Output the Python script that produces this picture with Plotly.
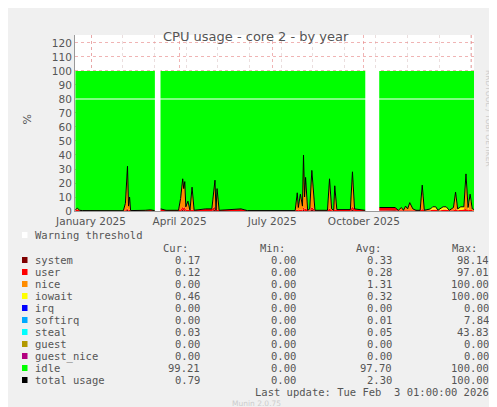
import plotly.graph_objects as go

# day offsets from 2025-01-01 (as positioned on the chart's time axis)
days = [-15,-13,-11,-8,31,33,35,36,37,38,52,57,61,
        67,72,84,86,88,89,90,91,93,95,97,99,110,116,119,120,121,123,137,144,150,196,198,199,201,203,204,205,206,208,210,212,215,227,229,231,233,234,236,249,251,253,263,
        277,292,295,298,300,302,304,306,309,312,316,318,320,326,328,331,333,336,338,341,344,348,350,352,355,358,360,362,364,366,368]
system = [0,0,0,0,0,0,1,0,0,0,0,0,0,
          0,0,0,0,1,0,1,0,0,0,0,0,0,0,1,0,0,0,0,0,0,0,0,0,0,0,1,0,0,0,0,1,0,0,0,0,0,0,0,0,1,0,0,
          0.5,0.5,0,0,0,0,0,0,0,0,0,0.5,0,0,0,0,0,0,0,0,0,0,0.5,0,0,0,0.5,0,0,0,0]
user = [1,1,0.5,0.3,0.2,0.5,1,0.5,1,0.3,0.5,0.8,0.3,
        1.5,0.5,0.5,1,2,2,2,1,1,0.5,1,0.5,1.5,1.5,2,0.5,1,0.5,1.5,1.5,0.3,0.3,1,0.5,1,0.5,2,1,2,0.5,0.5,2,0.5,0.5,2,0.5,0.5,1,1,1,2,1.5,0.5,
        2,2,0.5,0.5,0.5,0.5,0.5,1,0.5,0.5,0.5,1,0.5,0.5,1,1,0.5,0.5,1,1,0.5,0.5,1,0.5,1,1,1,0.5,1,0.5,0.5]
nice = [0,1,0,0,0,5,30,3,9,0,0,0,0,
        0,0,0,8,20,14,18,2,6,0,16,0,0,0,19,0,15,0,0,0,0,0,12,2,11,3,37,9,22,0,1,26,0,0,21,1,0,17,0,0,25,0,0,
        0,0,0,2,0,3,1,5,1,0,0,17,0,0,0,0,0,0,0,0,0,2,12,0,0,0,24,0,9,0,0]
iowait = [0]*13 + [0]*43 + [0,0,0,0,0,0,0,0,0,0,0,0,0,1,2,2,0,1.5,2,2,0,0,0,1,2,2,1,2,2,1,0.5]
gaps = [(61.3, 66.7), (263.3, 276.7)]
tick_days = [0, 85, 174, 262, 365]
tick_text = ["January 2025", "April 2025", "July 2025", "October 2025", "January 2026"]

legend_names = ["system","user","nice","iowait","irq","softirq","steal","guest","guest_nice","idle","total usage"]
legend_colors = ["#7f0000","#ff0000","#ff8c00","#ffff00","#0000ff","#00aaff","#00ffff","#b39900","#b3007f","#00ff00","#000000"]
cur = ["0.17","0.12","0.00","0.46","0.00","0.00","0.03","0.00","0.00","99.21","0.79"]
mins = ["0.00"]*11
avg = ["0.33","0.28","1.31","0.32","0.00","0.01","0.05","0.00","0.00","97.70","2.30"]
mx = ["98.14","97.01","100.00","100.00","0.00","7.84","43.83","0.00","0.00","100.00","100.00"]

total = [s+u+n+i for s,u,n,i in zip(system,user,nice,iowait)]
idle = [100-t for t in total]

fig = go.Figure()
for name, ys, col in [("system",system,"#7f0000"),("user",user,"#ff0000"),("nice",nice,"#ff8c00"),
                      ("iowait",iowait,"#ffff00"),("idle",idle,"#00ff00")]:
    fig.add_trace(go.Scatter(x=days, y=ys, stackgroup="a", mode="lines", line=dict(width=0, color=col),
                             fillcolor=col, name=name, showlegend=False))
fig.add_trace(go.Scatter(x=days, y=total, mode="lines", line=dict(color="black", width=1), showlegend=False))

L, R, T, B = 67, 466, 27, 203
def px(x): return (x-L)/(R-L)
def py(y): return (B-y)/(B-T)

shapes = []
for a, b in gaps:
    shapes.append(dict(type="rect", xref="x", yref="y", x0=a, x1=b, y0=-0.5, y1=101, fillcolor="white", line_width=0, layer="above"))
shapes.append(dict(type="line", xref="paper", yref="y", x0=0, x1=1, y0=80, y1=80, line=dict(color="white", width=1.2), layer="above"))

ann = []
mono = dict(family="DejaVu Sans Mono", size=10.5, color="#555")
def txt(x, y, t, anchor="left", font=mono):
    ann.append(dict(xref="paper", yref="paper", x=px(x), y=py(y), text=t, showarrow=False, xanchor=anchor, yanchor="middle", font=font))
def sq(x, y, c):
    shapes.append(dict(type="rect", xref="paper", yref="paper", x0=px(x), x1=px(x+5.5), y0=py(y+3), y1=py(y-3), fillcolor=c, line_width=0))

sq(14, 227, "white"); txt(25, 227, "Warning threshold")
for t, x in [("Cur:",182),("Min:",279),("Avg:",375),("Max:",471)]:
    txt(x, 240, t, "right")
for k in range(11):
    y = 252 + 12*k
    sq(14, y, legend_colors[k]); txt(25, y, legend_names[k])
    txt(194, y, cur[k], "right"); txt(290, y, mins[k], "right"); txt(386, y, avg[k], "right"); txt(483, y, mx[k], "right")
txt(483, 384, "Last update: Tue Feb  3 01:00:00 2026", "right")
txt(248, 395, "Munin 2.0.75", "center", dict(family="DejaVu Sans", size=7.5, color="#ccc"))
ann.append(dict(xref="paper", yref="paper", x=px(248), y=py(19), text="CPU usage - core 2 - by year", showarrow=False,
                font=dict(family="DejaVu Sans", size=13, color="#555")))
ann.append(dict(xref="paper", yref="paper", x=px(10), y=py(112), text="%", textangle=-90, showarrow=False,
                font=dict(family="DejaVu Sans", size=11, color="#555")))
ann.append(dict(xref="paper", yref="paper", x=px(487), y=py(60), text="RRDTOOL / TOBI OETIKER", textangle=90, showarrow=False,
                font=dict(family="DejaVu Sans", size=7.5, color="#ccc")))

fig.update_layout(width=497, height=407, margin=dict(l=L, r=497-R, t=T, b=407-B, autoexpand=False),
                  paper_bgcolor="#f0f0f0", plot_bgcolor="white", shapes=shapes, annotations=ann,
                  font=dict(family="DejaVu Sans", size=10.5, color="#555"))
fig.update_xaxes(range=[-15.4, 367.7], tickvals=tick_days, ticktext=tick_text, showgrid=True, automargin=False,
                 gridcolor="rgba(230,130,130,0.6)", griddash="dot", gridwidth=1, zeroline=False, ticks="",
                 minor=dict(dtick=30.4, tick0=0, showgrid=True, gridcolor="rgba(220,200,200,0.6)", griddash="dot"),
                 showline=True, linecolor="#999")
fig.update_yaxes(range=[0, 125.7], dtick=10, showgrid=True, gridcolor="rgba(230,130,130,0.6)", griddash="dot",
                 zeroline=False, ticks="", showline=True, linecolor="#999", automargin=False)
fig.write_html("out.html")
